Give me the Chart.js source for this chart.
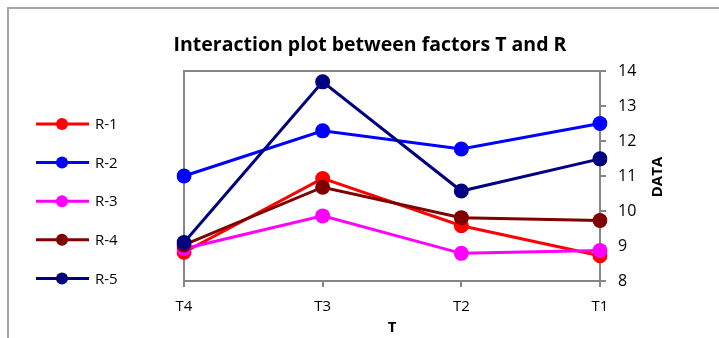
<!DOCTYPE html>
<html>
<head>
<meta charset="utf-8">
<script src="https://cdn.jsdelivr.net/npm/chart.js@4.4.1/dist/chart.umd.min.js"></script>
<style>
  html, body { margin: 0; padding: 0; background: #fff; }
  #wrap { position: relative; width: 719px; height: 338px; overflow: hidden; }
  #frame { position: absolute; left: 7px; top: 7px; width: 760px; height: 400px; border: 2px solid #a6a6a6; }
  #chart { position: absolute; left: 0; top: 0; }
</style>
</head>
<body>
<div id="wrap">
  <div id="frame"></div>
  <canvas id="chart" width="719" height="338"></canvas>
</div>
<script>
// 値は図から目視で読み取り
const categories = ["T4", "T3", "T2", "T1"];
const seriesNames = ["R-1", "R-2", "R-3", "R-4", "R-5"];
const seriesColors = ["#ff0000", "#0000ff", "#ff00ff", "#800000", "#000080"];
const r1 = [8.82, 10.93, 9.58, 8.72];
const r2 = [11.0, 12.29, 11.77, 12.5];
const r3 = [8.92, 9.86, 8.79, 8.87];
const r4 = [9.03, 10.68, 9.81, 9.73];
const r5 = [9.1, 13.69, 10.57, 11.49];
const yMin = 8, yMax = 14, yStep = 1;

const AXIS_GREY = "#868686";
const FONT = "'Open Sans'";

// プロット領域の上と左の枠
const plotFrame = {
  id: "plotFrame",
  beforeDatasetsDraw(chart) {
    const { ctx, chartArea: a } = chart;
    ctx.save();
    ctx.strokeStyle = AXIS_GREY;
    ctx.lineWidth = 2;
    ctx.beginPath();
    ctx.moveTo(a.left, a.bottom);
    ctx.lineTo(a.left, a.top);
    ctx.lineTo(a.right, a.top);
    ctx.stroke();
    ctx.restore();
  },
};

// 左側の凡例（線＋丸）と右軸タイトル（下から上へ読む向き）
const sideLegend = {
  id: "sideLegend",
  afterDraw(chart) {
    const { ctx } = chart;
    ctx.save();
    chart.data.datasets.forEach((ds, i) => {
      const y = 124 + i * 38.6;
      ctx.strokeStyle = ds.borderColor;
      ctx.lineWidth = 3;
      ctx.beginPath();
      ctx.moveTo(36, y);
      ctx.lineTo(89, y);
      ctx.stroke();
      ctx.fillStyle = ds.backgroundColor;
      ctx.beginPath();
      ctx.arc(62, y, 6, 0, Math.PI * 2);
      ctx.fill();
      ctx.fillStyle = "#000";
      ctx.font = `15px ${FONT}`;
      ctx.textBaseline = "middle";
      ctx.textAlign = "left";
      ctx.fillText(ds.label, 95, y + 1);
    });
    ctx.translate(658, 177);
    ctx.rotate(-Math.PI / 2);
    ctx.font = `bold 15px ${FONT}`;
    ctx.textAlign = "center";
    ctx.textBaseline = "middle";
    ctx.fillStyle = "#000";
    ctx.fillText("DATA", 0, 0);
    ctx.restore();
  },
};

function draw() {
  const allData = [r1, r2, r3, r4, r5];
  const datasets = allData.map((d, i) => ({
    label: seriesNames[i],
    data: d,
    borderColor: seriesColors[i],
    backgroundColor: seriesColors[i],
    borderWidth: 3,
    pointRadius: 7.5,
    pointHoverRadius: 7.5,
    pointBorderWidth: 0,
    tension: 0,
    order: allData.length - i,
    yAxisID: "y",
  }));

  new Chart(document.getElementById("chart").getContext("2d"), {
    type: "line",
    data: { labels: categories, datasets },
    plugins: [plotFrame, sideLegend],
    options: {
      responsive: false,
      animation: false,
      devicePixelRatio: 1,
      layout: { padding: { left: 21, right: 0, top: 0, bottom: 0 } },
      plugins: {
        legend: { display: false },
        tooltip: { enabled: false },
        title: {
          display: true,
          text: "Interaction plot between factors T and R",
          color: "#000",
          font: { family: FONT, size: 19.5, weight: "bold" },
          padding: { top: 33.3, bottom: 14.3 },
        },
      },
      scales: {
        x: {
          type: "category",
          offset: false,
          grid: { drawOnChartArea: false, drawTicks: true, tickLength: 6, color: AXIS_GREY, lineWidth: 2 },
          border: { color: AXIS_GREY, width: 2 },
          ticks: { color: "#000", font: { family: FONT, size: 15 }, padding: 11, maxRotation: 0 },
          title: {
            display: true,
            text: "T",
            color: "#000",
            font: { family: FONT, size: 15, weight: "bold" },
            padding: { top: 0, bottom: 1 },
          },
          afterFit: (s) => { s.height = 57; },
        },
        y: {
          type: "linear",
          position: "right",
          min: yMin,
          max: yMax,
          grid: { drawOnChartArea: false, drawTicks: true, tickLength: 6, color: AXIS_GREY, lineWidth: 2 },
          border: { color: AXIS_GREY, width: 2 },
          ticks: { stepSize: yStep, color: "#000", font: { family: FONT, size: 16 }, padding: 12 },
          afterFit: (s) => { s.width = 119; },
        },
        // 凡例ぶんの左余白
        yL: {
          type: "linear",
          position: "left",
          min: 0,
          max: 1,
          grid: { display: false },
          border: { display: false },
          ticks: { display: false },
          afterFit: (s) => { s.width = 163; },
        },
      },
    },
  });
}

Promise.all([
  document.fonts.load(`16px ${FONT}`),
  document.fonts.load(`bold 16px ${FONT}`),
]).then(draw, draw);
</script>
</body>
</html>
